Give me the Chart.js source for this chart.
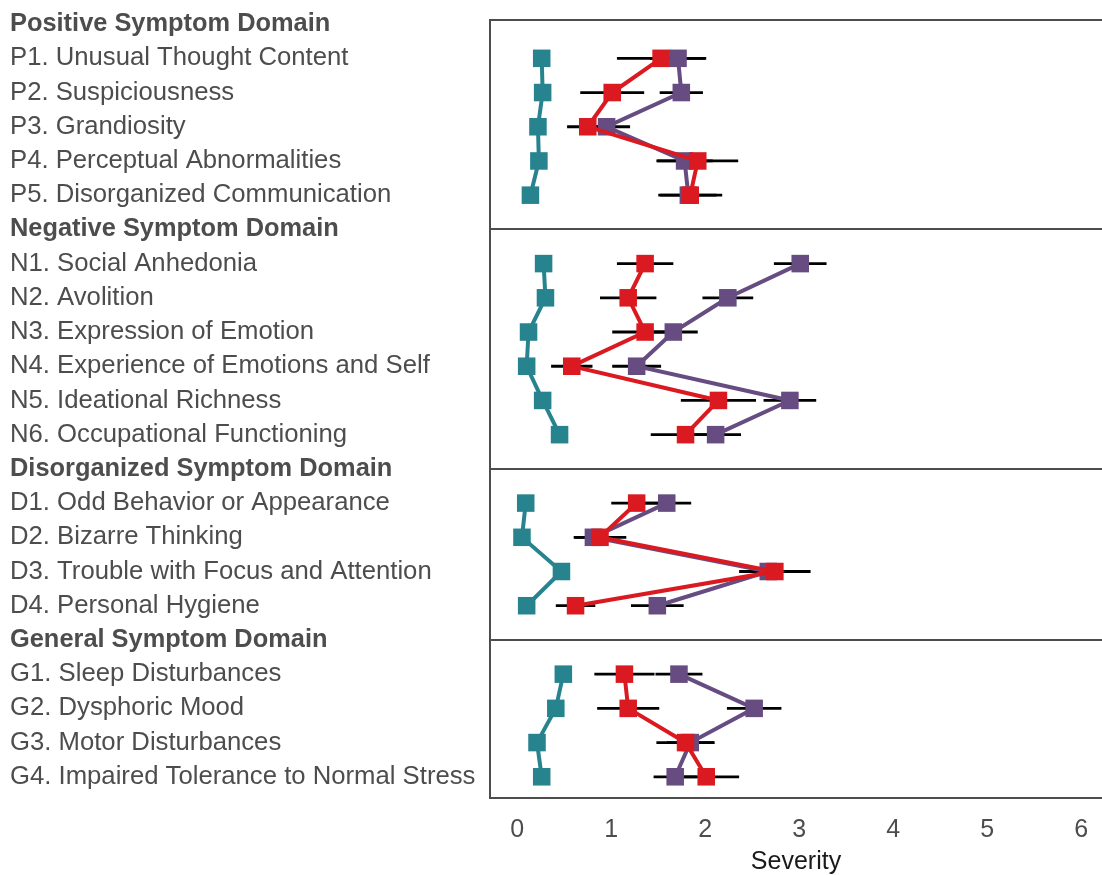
<!DOCTYPE html>
<html>
<head>
<meta charset="utf-8">
<script src="https://cdn.jsdelivr.net/npm/chart.js@4"></script>
<style>
  html, body { margin: 0; padding: 0; background: #fff; }
</style>
</head>
<body>
<canvas id="chart" width="1102" height="875"></canvas>
<script>
// symptom domains and their items, top to bottom
const domainNames = [
  "Positive Symptom Domain",
  "Negative Symptom Domain",
  "Disorganized Symptom Domain",
  "General Symptom Domain"
];
const domainItems = [
  ["P1. Unusual Thought Content", "P2. Suspiciousness", "P3. Grandiosity",
   "P4. Perceptual Abnormalities", "P5. Disorganized Communication"],
  ["N1. Social Anhedonia", "N2. Avolition", "N3. Expression of Emotion",
   "N4. Experience of Emotions and Self", "N5. Ideational Richness", "N6. Occupational Functioning"],
  ["D1. Odd Behavior or Appearance", "D2. Bizarre Thinking",
   "D3. Trouble with Focus and Attention", "D4. Personal Hygiene"],
  ["G1. Sleep Disturbances", "G2. Dysphoric Mood", "G3. Motor Disturbances",
   "G4. Impaired Tolerance to Normal Stress"]
];

// mean severity per item (P1..P5, N1..N6, D1..D4, G1..G4)
const tealMeans = [0.26, 0.27, 0.22, 0.23, 0.14,
                   0.28, 0.30, 0.12, 0.10, 0.27, 0.45,
                   0.09, 0.05, 0.47, 0.10,
                   0.49, 0.41, 0.21, 0.26];
const redMeans = [1.53, 1.01, 0.75, 1.92, 1.84,
                  1.36, 1.18, 1.36, 0.58, 2.14, 1.79,
                  1.27, 0.88, 2.74, 0.62,
                  1.14, 1.18, 1.79, 2.01];
const redErrors = [0.47, 0.34, 0.22, 0.43, 0.34,
                   0.30, 0.30, 0.35, 0.22, 0.40, 0.37,
                   0.27, 0.28, 0.38, 0.21,
                   0.32, 0.33, 0.31, 0.35];
const purpleMeans = [1.71, 1.745, 0.95, 1.78, 1.82,
                     3.01, 2.24, 1.66, 1.27, 2.90, 2.11,
                     1.59, 0.81, 2.67, 1.49,
                     1.72, 2.52, 1.84, 1.68];
const purpleErrors = [0.30, 0.23, 0.25, 0.30, 0.30,
                      0.28, 0.27, 0.26, 0.26, 0.28, 0.27,
                      0.26, 0.20, 0.30, 0.28,
                      0.25, 0.29, 0.25, 0.23];
const xTicks = [0, 1, 2, 3, 4, 5, 6];

const TEXT = "#4d4d4d";
const FONT = "'Liberation Sans', Arial, sans-serif";

// one row per header and per item
const rowLabels = [];
const headerRows = [];
const itemRows = [];
domainNames.forEach((name, d) => {
  headerRows.push(rowLabels.length);
  rowLabels.push(name);
  domainItems[d].forEach((item) => {
    itemRows.push(rowLabels.length);
    rowLabels.push(item);
  });
});

// header rows get x = null so each domain's line is drawn on its own
function meanPoints(values) {
  const pts = [];
  let k = 0;
  rowLabels.forEach((label, row) => {
    if (headerRows.includes(row)) pts.push({ x: null, y: row });
    else pts.push({ x: values[k++], y: row });
  });
  return pts;
}

// each error bar is a two point segment followed by a gap
function errorPoints(values, errors) {
  const pts = [];
  itemRows.forEach((row, k) => {
    pts.push({ x: values[k] - errors[k], y: row });
    pts.push({ x: values[k] + errors[k], y: row });
    pts.push({ x: null, y: row });
  });
  return pts;
}

function meanDataset(label, values, color, order) {
  return {
    label: label,
    data: meanPoints(values),
    borderColor: color,
    backgroundColor: color,
    borderWidth: 4,
    pointStyle: "rect",
    pointRadius: 12.4,
    pointBorderWidth: 0,
    pointBackgroundColor: color,
    order: order
  };
}

function errorDataset(label, values, errors) {
  return {
    label: label,
    data: errorPoints(values, errors),
    borderColor: "#000",
    borderWidth: 2.8,
    pointRadius: 0,
    order: 10
  };
}

new Chart(document.getElementById("chart").getContext("2d"), {
  type: "line",
  data: {
    datasets: [
      meanDataset("Group 3", redMeans, "#da1a20", 1),
      meanDataset("Group 2", purpleMeans, "#664c80", 2),
      meanDataset("Group 1", tealMeans, "#27848f", 3),
      errorDataset("Group 3 error", redMeans, redErrors),
      errorDataset("Group 2 error", purpleMeans, purpleErrors)
    ]
  },
  options: {
    responsive: false,
    animation: false,
    events: [],
    layout: { autoPadding: false, padding: { left: 10, top: 20, right: 0, bottom: 0 } },
    plugins: {
      legend: { display: false },
      tooltip: { enabled: false }
    },
    scales: {
      x: {
        type: "linear",
        position: "bottom",
        min: -0.29,
        max: 6.22,
        afterBuildTicks: (scale) => { scale.ticks = xTicks.map((v) => ({ value: v })); },
        afterFit: (scale) => { scale.paddingLeft = 0; scale.paddingRight = 0; },
        ticks: { color: TEXT, font: { family: FONT, size: 25 }, padding: 17 },
        grid: { display: false, drawTicks: false },
        border: { display: true, color: TEXT, width: 2 },
        title: {
          display: true,
          text: "Severity",
          color: "#1a1a1a",
          font: { family: FONT, size: 25 },
          padding: { top: -15, bottom: -2 }
        }
      },
      xTop: {
        type: "linear",
        position: "top",
        min: -0.29,
        max: 6.22,
        ticks: { display: false },
        grid: { display: false, drawTicks: false },
        border: { display: true, color: TEXT, width: 2 }
      },
      y: {
        type: "linear",
        reverse: true,
        min: -0.12,
        max: 22.62,
        afterBuildTicks: (scale) => { scale.ticks = rowLabels.map((l, i) => ({ value: i })); },
        afterFit: (scale) => { scale.width = 480; },
        ticks: {
          autoSkip: false,
          crossAlign: "far",
          color: TEXT,
          font: (ctx) => {
            const bold = ctx.tick && headerRows.includes(ctx.tick.value);
            return { family: FONT, size: bold ? 25.4 : 25.7, weight: bold ? "bold" : "normal" };
          },
          callback: (value) => rowLabels[value]
        },
        grid: {
          drawTicks: false,
          lineWidth: 2,
          color: (ctx) => (ctx.tick && ctx.tick.value > 0 && headerRows.includes(ctx.tick.value)) ? TEXT : "rgba(0,0,0,0)"
        },
        border: { display: true, color: TEXT, width: 2 }
      }
    }
  }
});
</script>
</body>
</html>
